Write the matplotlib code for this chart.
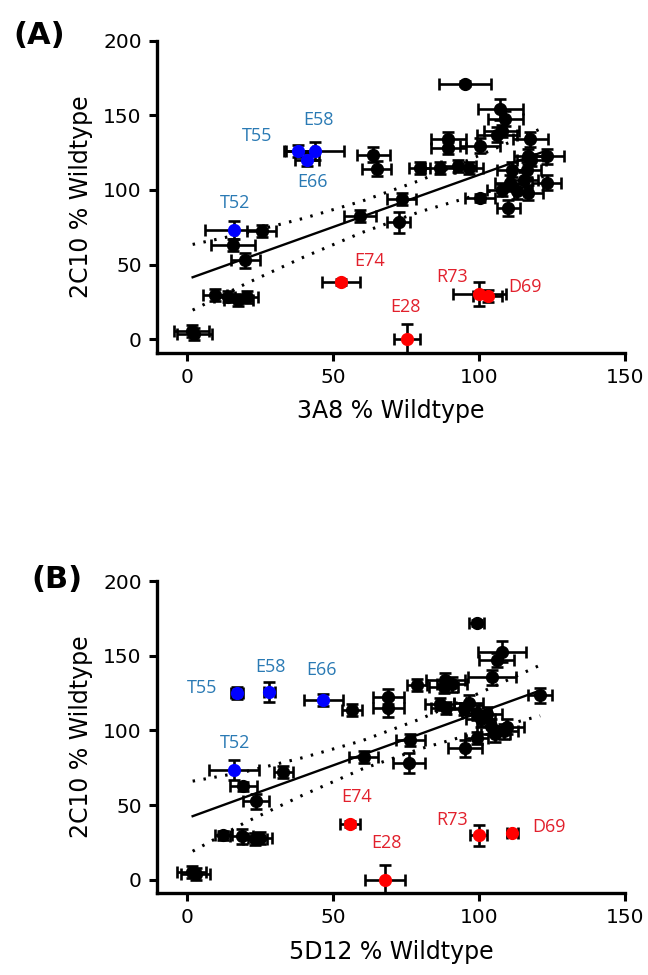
import numpy as np
import matplotlib
matplotlib.use("Agg")
import matplotlib.pyplot as plt

# ---- panel A: 3A8 vs 2C10 ----
a_x = [1.7, 2.5, 9.7, 14.2, 17.7, 20.5, 15.8, 20.0, 25.7, 59.3, 72.5, 73.6, 63.9, 65.0,
       79.7, 86.7, 93.0, 89.6, 89.6, 95.3, 107.3, 109.0, 100.4, 106.2, 107.9, 117.6, 123.3,
       100.4, 110.1, 111.3, 116.4, 110.7, 115.3, 113.0, 117.0, 123.3, 107.9, 117.0, 118.0, 96.5]
a_xerr = [6, 6, 4, 5, 5, 4, 7.5, 5, 5, 5.4, 4, 5, 5.7, 5,
          3.5, 5, 6, 6, 6, 9, 7.7, 6, 7, 7, 6, 6, 6,
          5, 4, 5, 5, 5, 5, 5, 5, 5, 5, 5, 5, 5]
a_y = [5.8, 3.5, 29.7, 28.6, 26.4, 28.2, 63.3, 52.8, 72.7, 82.7, 78.3, 94.0, 123.7, 114.1,
       114.8, 114.8, 115.8, 133.8, 128.2, 171.3, 153.9, 147.6, 129.7, 137.1, 139.3, 133.8, 122.6,
       94.6, 87.9, 113.6, 113.6, 104.7, 106.9, 99.0, 98.0, 104.7, 100.2, 122.6, 120.3, 115.0]
a_yerr = [4, 4, 4, 4, 4, 4, 4, 5, 4, 4, 7, 4, 5, 5,
          4, 4, 4, 5, 4, 2, 7, 5, 5, 5, 4, 5, 5,
          3, 5.5, 5, 5, 5, 5, 5, 5, 5, 4, 5, 4, 4]

a_blue = ["T52", "T55", "E58", "E66"]
a_blue_x = [16.2, 38.2, 43.9, 41.1]
a_blue_xerr = [10, 5, 10, 4]
a_blue_y = [73.3, 125.9, 125.9, 120.3]
a_blue_yerr = [6, 4, 6, 4.5]
a_blue_lx = [16.5, 24.0, 45.0, 43.0]
a_blue_ly = [91.3, 136.4, 147.0, 105.0]

a_red = ["E74", "E28", "R73", "D69"]
a_red_x = [52.7, 75.4, 100.2, 103.0]
a_red_xerr = [6.5, 4.5, 9, 5]
a_red_y = [38.2, 0.0, 30.2, 29.1]
a_red_yerr = [2, 10, 8, 4]
a_red_lx = [62.7, 74.8, 91.0, 115.8]
a_red_ly = [52.1, 21.5, 41.6, 34.9]

a_fit_x = [2, 20, 40, 60, 80, 100, 123]
a_fit_y = [41.5, 54.1, 68.1, 82.1, 96.1, 110.1, 126.2]
a_band_hi = [63.5, 71.0, 81.0, 92.5, 106.5, 123.0, 142.5]
a_band_lo = [19.5, 37.0, 55.0, 71.5, 85.5, 97.0, 109.5]

# ---- panel B: 5D12 vs 2C10 ----
b_x = [1.7, 3.0, 12.5, 18.8, 23.4, 25.1, 19.4, 23.7, 33.1, 60.6, 76.0, 76.5, 56.5, 69.0,
       69.0, 78.8, 88.5, 87.9, 86.6, 88.7, 95.0, 96.5, 99.3, 107.9, 106.2, 104.5, 121.0,
       95.3, 99.3, 100.7, 104.2, 108.5, 109.6, 105.6, 102.8, 99.3, 90.8]
b_xerr = [5, 5, 3, 4, 4, 4, 4.5, 4.3, 3.4, 5, 5.5, 5, 3.4, 5.4,
          5.4, 3.4, 6.6, 5, 5, 5, 5, 5, 2.5, 8.3, 6, 8.3, 4,
          5.7, 4, 5, 5, 5, 6, 5, 5, 5, 5]
b_y = [5.1, 3.5, 29.7, 29.0, 27.5, 28.0, 62.6, 52.5, 72.2, 82.2, 78.2, 93.5, 113.6, 122.6,
       114.8, 130.4, 133.8, 129.3, 117.6, 115.3, 114.2, 118.7, 171.8, 152.8, 147.2, 135.6, 123.6,
       87.9, 95.0, 107.4, 102.9, 99.5, 102.4, 97.3, 110.8, 112.0, 131.0]
b_yerr = [4, 4, 3, 5, 4, 4, 3, 5, 4, 4, 7, 4, 4, 5,
          6, 4, 5, 4, 4, 4, 4, 5, 2, 7, 5, 5, 5,
          6, 4, 5, 5, 5, 5, 5, 5, 5, 5]

b_blue = ["T52", "T55", "E58", "E66"]
b_blue_x = [16.2, 17.3, 28.3, 46.8]
b_blue_xerr = [8.5, 2, 2, 6.6]
b_blue_y = [73.4, 124.8, 125.9, 120.3]
b_blue_yerr = [6.7, 4, 6.7, 4]
b_blue_lx = [16.5, 5.1, 28.5, 46.2]
b_blue_ly = [91.3, 128.2, 142.7, 140.5]

b_red = ["E74", "E28", "R73", "D69"]
b_red_x = [55.9, 67.9, 99.9, 111.5]
b_red_xerr = [3.5, 6.8, 3, 2]
b_red_y = [37.1, 0.0, 29.7, 30.9]
b_red_yerr = [2, 9.6, 7, 2]
b_red_lx = [58.2, 68.5, 90.7, 124.0]
b_red_ly = [55.4, 24.2, 39.8, 35.4]

b_fit_x = [2, 20, 40, 60, 80, 100, 121]
b_fit_y = [42.5, 55.3, 69.4, 83.6, 97.7, 111.9, 126.8]
b_band_hi = [66.0, 72.3, 81.9, 93.1, 107.7, 124.9, 143.8]
b_band_lo = [19.0, 38.3, 56.9, 74.1, 87.7, 98.9, 109.8]

BLUE_TXT = '#2a7ab4'
RED_TXT = '#e2202c'


def draw_panel(ax, x, xerr, y, yerr, blue, bx, bxe, by, bye, blx, bly,
               red, rx, rxe, ry, rye, rlx, rly, fx, fy, lo, hi, xlabel):
    eb = dict(fmt='o', ecolor='black', elinewidth=1.9, capsize=4.5, capthick=1.9,
              markersize=8.5)
    ax.errorbar(x, y, xerr=xerr, yerr=yerr, color='black', **eb)
    ax.plot(fx, fy, color='black', lw=1.7)
    ax.plot(fx, hi, color='black', lw=2.2, ls=(0, (0.8, 2.8)))
    ax.plot(fx, lo, color='black', lw=2.2, ls=(0, (0.8, 2.8)))
    ax.errorbar(bx, by, xerr=bxe, yerr=bye, color='#0000ff', zorder=3, **eb)
    ax.errorbar(rx, ry, xerr=rxe, yerr=rye, color='#ff0000', zorder=3, **eb)
    for name, lx, ly in zip(blue, blx, bly):
        ax.text(lx, ly, name, color=BLUE_TXT, fontsize=13, family='Open Sans',
                ha='center', va='center')
    for name, lx, ly in zip(red, rlx, rly):
        ax.text(lx, ly, name, color=RED_TXT, fontsize=13, family='Open Sans',
                ha='center', va='center')

    ax.set_xlim(-10.2, 150)
    ax.set_ylim(-9, 200)
    ax.set_xticks([0, 50, 100, 150])
    ax.set_yticks([0, 50, 100, 150, 200])
    ax.spines['top'].set_visible(False)
    ax.spines['right'].set_visible(False)
    ax.spines['left'].set_linewidth(2.4)
    ax.spines['bottom'].set_linewidth(2.4)
    ax.tick_params(width=2.2, length=6, labelsize=14.5, pad=5)
    ax.set_xlabel(xlabel, fontsize=17, labelpad=9)
    ax.set_ylabel('2C10 % Wildtype', fontsize=17, labelpad=7)


fig = plt.figure(figsize=(6.48, 9.75), dpi=100)
ax1 = fig.add_axes([0.2423, 0.6383, 0.722, 0.32])
ax2 = fig.add_axes([0.2423, 0.0841, 0.722, 0.3197])

draw_panel(ax1, a_x, a_xerr, a_y, a_yerr, a_blue, a_blue_x, a_blue_xerr, a_blue_y, a_blue_yerr,
           a_blue_lx, a_blue_ly, a_red, a_red_x, a_red_xerr, a_red_y, a_red_yerr,
           a_red_lx, a_red_ly, a_fit_x, a_fit_y, a_band_lo, a_band_hi, '3A8 % Wildtype')
draw_panel(ax2, b_x, b_xerr, b_y, b_yerr, b_blue, b_blue_x, b_blue_xerr, b_blue_y, b_blue_yerr,
           b_blue_lx, b_blue_ly, b_red, b_red_x, b_red_xerr, b_red_y, b_red_yerr,
           b_red_lx, b_red_ly, b_fit_x, b_fit_y, b_band_lo, b_band_hi, '5D12 % Wildtype')

fig.text(39 / 648, 1 - 36 / 975, '(A)', fontsize=22, fontweight='bold', ha='center', va='center')
fig.text(57 / 648, 1 - 580 / 975, '(B)', fontsize=22, fontweight='bold', ha='center', va='center')

fig.savefig('out.png', dpi=100)
